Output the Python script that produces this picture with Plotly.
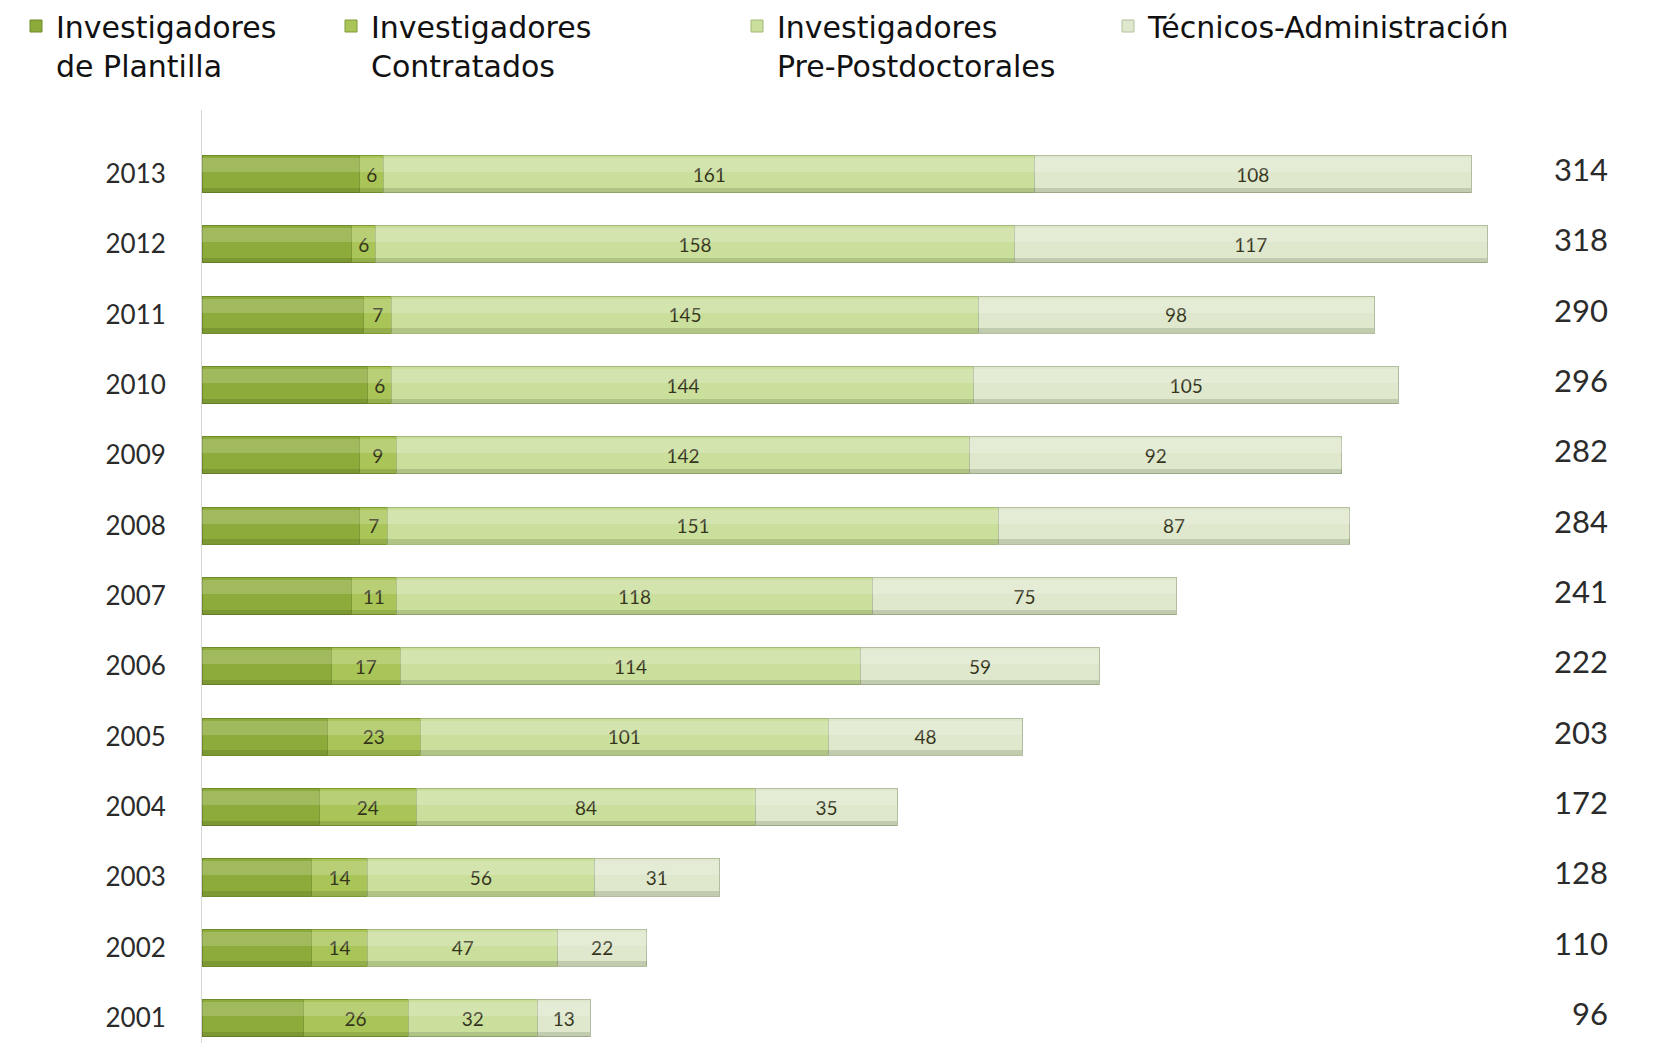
import plotly.graph_objects as go

# Staff by year and category (2001-2013)
years = ["2001", "2002", "2003", "2004", "2005", "2006", "2007",
         "2008", "2009", "2010", "2011", "2012", "2013"]
totals = [96, 110, 128, 172, 203, 222, 241, 284, 282, 296, 290, 318, 314]
contratados = [26, 14, 14, 24, 23, 17, 11, 7, 9, 6, 7, 6, 6]
pre_post = [32, 47, 56, 84, 101, 114, 118, 151, 142, 144, 145, 158, 161]
tecnicos = [13, 22, 31, 35, 48, 59, 75, 87, 92, 105, 98, 117, 108]
# permanent staff = total minus the labelled categories
plantilla = [t - c - p - a for t, c, p, a in zip(totals, contratados, pre_post, tecnicos)]

series_names = ["Investigadores<br>de Plantilla", "Investigadores<br>Contratados",
                "Investigadores<br>Pre-Postdoctorales", "Técnicos-Administración"]
series_values = [plantilla, contratados, pre_post, tecnicos]
series_colors = ["#8cab3a", "#a9c557", "#cbdf9d", "#dfe8cd"]
series_edges = ["#6f8a2a", "#7f9a34", "#a3b879", "#b3bea0"]
show_text = [False, True, True, True]

W, H = 1657, 1043
PLOT_LEFT = 202
BAR_W = 0.53

fig = go.Figure()
legend_ids = ["legend", "legend2", "legend3", "legend4"]
for name, vals, col, edge, txt, lg in zip(series_names, series_values, series_colors,
                                           series_edges, show_text, legend_ids):
    fig.add_trace(go.Bar(
        y=years, x=vals, name=name, orientation="h",
        width=BAR_W,
        marker=dict(color=col, line=dict(color=edge, width=1)),
        text=[str(v) for v in vals] if txt else None,
        textposition="inside" if txt else "none",
        insidetextanchor="middle",
        textangle=0,
        constraintext="none",
        textfont=dict(family="Lato, sans-serif", size=19, color="#34341c"),
        legend=lg,
    ))

# soft shading, each on its own overlaid x axis so it stacks separately:
# a light band near the top of each bar (x2) and a darker lower edge (x3)
for vals in series_values:
    fig.add_trace(go.Bar(
        y=years, x=vals, orientation="h", xaxis="x2",
        width=0.2, offset=0.03,
        marker=dict(color="rgba(255,255,255,0.18)", line=dict(width=0)),
        showlegend=False, hoverinfo="skip",
    ))
    fig.add_trace(go.Bar(
        y=years, x=vals, orientation="h", xaxis="x3",
        width=0.07, offset=-BAR_W / 2,
        marker=dict(color="rgba(40,55,10,0.16)", line=dict(width=0)),
        showlegend=False, hoverinfo="skip",
    ))

# totals at the right of each bar
for i, t in enumerate(totals):
    fig.add_annotation(x=(1610 - PLOT_LEFT) / (W - PLOT_LEFT), xref="paper", xanchor="right",
                       y=i, yref="y", yshift=5, text=str(t), showarrow=False,
                       font=dict(family="Lato, sans-serif", size=31, color="#2b2b2b"))

legend_font = dict(family="DejaVu Sans, sans-serif", size=30, color="#111111")
legend_pos = [16, 331, 737, 1108]
layout_legends = {}
for lg, px in zip(legend_ids, legend_pos):
    layout_legends[lg] = dict(
        x=px / W, xref="container", xanchor="left",
        y=1.0, yref="container", yanchor="top",
        valign="top",
        font=legend_font, bgcolor="rgba(0,0,0,0)", borderwidth=0,
        itemclick=False, itemdoubleclick=False,
    )

hidden_x = dict(range=[0, 360], visible=False, fixedrange=True)
fig.update_layout(
    width=W, height=H,
    margin=dict(l=PLOT_LEFT, r=0, t=110, b=0, autoexpand=False),
    barmode="stack",
    paper_bgcolor="white",
    plot_bgcolor="white",
    showlegend=True,
    xaxis=hidden_x,
    xaxis2=dict(hidden_x, overlaying="x"),
    xaxis3=dict(hidden_x, overlaying="x"),
    yaxis=dict(type="category", categoryorder="array", categoryarray=years,
               range=[-0.355, 12.91], showgrid=False, zeroline=False,
               showline=True, linecolor="#d6d6d6", linewidth=1,
               ticks="", ticklabelstandoff=30, automargin=False,
               tickfont=dict(family="Lato, sans-serif", size=26, color="#2b2b2b")),
    **layout_legends,
)

fig.write_html("out.html")
